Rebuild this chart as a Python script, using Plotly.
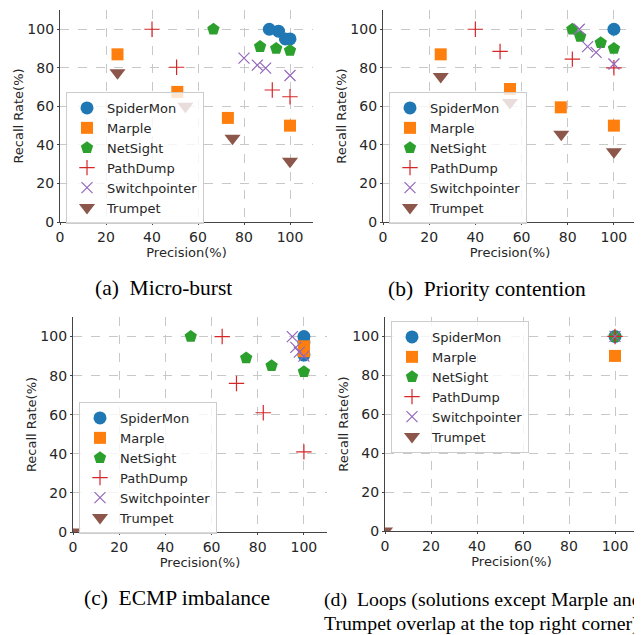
import plotly.graph_objects as go

# page body has an 8px margin; figure is sized so it fills the 642x635 window
OFF = 8
W, H = 642 - OFF, 635 - OFF

series_names = ["SpiderMon", "Marple", "NetSight", "PathDump", "Switchpointer", "Trumpet"]
colors = ["#1f77b4", "#ff7f0e", "#2ca02c", "#d62728", "#9467bd", "#8c564b"]
symbols = ["circle", "square", "pentagon", "cross-thin", "x-thin", "triangle-down"]
sizes = [13, 12, 13, 11, 11, 14]

# Panel (a) Micro-burst
a_x = {
    "SpiderMon": [91, 95, 98, 100],
    "Marple": [25, 51, 73, 100],
    "NetSight": [66.7, 87, 94, 100],
    "PathDump": [40, 50.7, 92.3, 100],
    "Switchpointer": [80, 85.8, 89.4, 100],
    "Trumpet": [25, 54.5, 75, 100],
}
a_y = {
    "SpiderMon": [100, 99, 95, 95],
    "Marple": [87, 67.5, 54, 50],
    "NetSight": [100, 91, 90, 89],
    "PathDump": [100, 80.3, 68.5, 65],
    "Switchpointer": [85, 81.4, 79.8, 76],
    "Trumpet": [77.5, 60, 43.5, 31.5],
}
# Panel (b) Priority contention
b_x = {
    "SpiderMon": [100],
    "Marple": [25, 55, 77, 100],
    "NetSight": [82, 85.4, 94.3, 100],
    "PathDump": [40, 50.7, 82, 100],
    "Switchpointer": [85, 88.6, 92.3, 100],
    "Trumpet": [25, 55, 77.2, 100],
}
b_y = {
    "SpiderMon": [100],
    "Marple": [87, 69, 59.5, 50],
    "NetSight": [100, 96.3, 93, 90],
    "PathDump": [100, 88.5, 84.5, 80],
    "Switchpointer": [100, 91, 88, 82],
    "Trumpet": [75.5, 62, 45.5, 36.5],
}
# Panel (c) ECMP imbalance
c_x = {
    "SpiderMon": [100, 100, 100],
    "Marple": [100, 100],
    "NetSight": [51, 75, 86, 100],
    "PathDump": [64.6, 70.8, 82.4, 100],
    "Switchpointer": [95, 96.5, 98, 100],
    "Trumpet": [0],
}
c_y = {
    "SpiderMon": [100, 97, 90.5],
    "Marple": [95, 92.5],
    "NetSight": [100, 89, 85, 82],
    "PathDump": [100, 76, 61, 41],
    "Switchpointer": [100, 94.5, 92, 90],
    "Trumpet": [0],
}
# Panel (d) Loops
d_x = {"SpiderMon": [100], "Marple": [100], "NetSight": [100], "PathDump": [100],
       "Switchpointer": [100], "Trumpet": [0]}
d_y = {"SpiderMon": [100], "Marple": [90], "NetSight": [100], "PathDump": [100],
       "Switchpointer": [100], "Trumpet": [0]}

captions = ["(a)  Micro-burst", "(b)  Priority contention", "(c)  ECMP imbalance"]
caption_d = ["(d)  Loops (solutions except Marple and",
             "Trumpet overlap at the top right corner)"]

x_ticks = [0, 20, 40, 60, 80, 100]
y_ticks = [0, 20, 40, 60, 80, 100]

# pixel boxes in window coords (left, right, top, bottom)
boxes = [(60, 313, 10, 222), (383, 637, 10, 222), (73, 327, 317, 532), (385, 638, 317, 531)]
legend_pos = [(66, 92), (389, 92), (79, 402), (391, 321)]

panels = [(a_x, a_y), (b_x, b_y), (c_x, c_y), (d_x, d_y)]


def fx(p):
    return (p - OFF) / W


def fy(p):
    return 1 - (p - OFF) / H


fig = go.Figure()
layout = dict(width=W, height=H, margin=dict(l=0, r=0, t=0, b=0),
              paper_bgcolor="white", plot_bgcolor="white",
              font=dict(family="DejaVu Sans", color="#262626"))

for i, (px, py) in enumerate(panels):
    k = "" if i == 0 else str(i + 1)
    leg = "legend" if i == 0 else "legend" + str(i + 1)
    for j, name in enumerate(series_names):
        thin = symbols[j] in ("cross-thin", "x-thin")
        marker = dict(symbol=symbols[j], size=sizes[j], color=colors[j])
        if thin:
            marker["line"] = dict(color=colors[j], width=1.2)
        else:
            marker["line"] = dict(width=0)
        fig.add_trace(go.Scatter(x=px[name], y=py[name], mode="markers", name=name,
                                 marker=marker, xaxis="x" + k, yaxis="y" + k,
                                 legend=leg, showlegend=True))
    l, r, t, b = boxes[i]
    axstyle = dict(showline=True, linecolor="#444", linewidth=1.2, mirror=False,
                   showgrid=True, gridcolor="#c8c8c8", griddash="dash", gridwidth=1,
                   zeroline=False, ticks="outside", ticklen=2, tickcolor="#444",
                   automargin=False,
                   tickfont=dict(size=14, color="#262626"))
    layout["xaxis" + k] = dict(domain=[fx(l), fx(r)], range=[0, 110], tickvals=x_ticks,
                               anchor="y" + k,
                               title=dict(text="Precision(%)", font=dict(size=13), standoff=0),
                               **axstyle)
    layout["yaxis" + k] = dict(domain=[fy(b), fy(t)], range=[0, 110], tickvals=y_ticks,
                               anchor="x" + k,
                               title=dict(text="Recall Rate(%)", font=dict(size=13), standoff=0),
                               **axstyle)
    lx, ly = legend_pos[i]
    layout[leg] = dict(x=fx(lx), y=fy(ly), xanchor="left", yanchor="top",
                       xref="paper", yref="paper",
                       bgcolor="rgba(255,255,255,0.8)", bordercolor="#cccccc", borderwidth=1,
                       font=dict(size=13, color="#262626"), tracegroupgap=0,
                       itemsizing="trace")

fig.update_layout(**layout)

cap_font = dict(family="Liberation Serif", size=21.5, color="black")
fig.add_annotation(text=captions[0], x=fx(163), y=fy(288), xref="paper", yref="paper",
                   showarrow=False, xanchor="center", yanchor="middle", font=cap_font)
fig.add_annotation(text=captions[1], x=fx(487), y=fy(289), xref="paper", yref="paper",
                   showarrow=False, xanchor="center", yanchor="middle", font=cap_font)
fig.add_annotation(text=captions[2], x=fx(177), y=fy(598), xref="paper", yref="paper",
                   showarrow=False, xanchor="center", yanchor="middle", font=cap_font)
cap_font_d = dict(family="Liberation Serif", size=19.8, color="black")
fig.add_annotation(text=caption_d[0], x=fx(322), y=fy(599), xref="paper", yref="paper",
                   showarrow=False, xanchor="left", yanchor="middle", font=cap_font_d)
fig.add_annotation(text=caption_d[1], x=fx(322), y=fy(623), xref="paper", yref="paper",
                   showarrow=False, xanchor="left", yanchor="middle", font=cap_font_d)

fig.write_html("out.html")
